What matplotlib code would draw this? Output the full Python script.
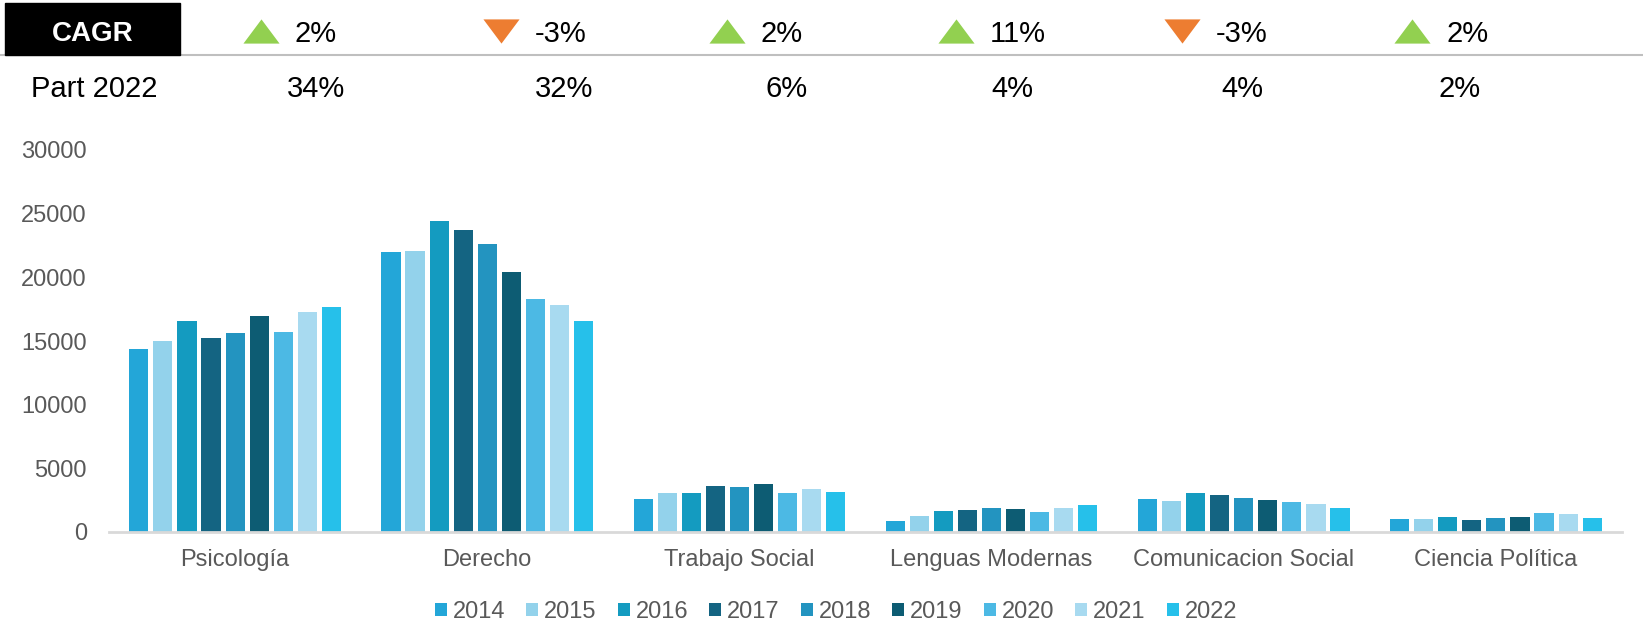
import matplotlib.pyplot as plt
import numpy as np

plt.rcParams['font.family'] = ['Liberation Sans', 'DejaVu Sans']

# datos
carreras = ['Psicología', 'Derecho', 'Trabajo Social', 'Lenguas Modernas',
            'Comunicacion Social', 'Ciencia Política']
anios = ['2014', '2015', '2016', '2017', '2018', '2019', '2020', '2021', '2022']

psicologia = [14400, 15000, 16600, 15200, 15600, 17000, 15700, 17300, 17700]
derecho = [22000, 22100, 24400, 23700, 22600, 20400, 18300, 17800, 16600]
trabajo_social = [2600, 3030, 3090, 3580, 3550, 3740, 3030, 3400, 3160]
lenguas_modernas = [830, 1280, 1670, 1750, 1910, 1830, 1540, 1910, 2090]
comunicacion_social = [2560, 2430, 3030, 2930, 2670, 2540, 2320, 2170, 1910]
ciencia_politica = [990, 990, 1150, 960, 1100, 1150, 1510, 1380, 1120]

cagr = [2, -3, 2, 11, -3, 2]
part_2022 = [34, 32, 6, 4, 4, 2]

colores = ['#23A6D8', '#93D2EB', '#149BC0', '#146482', '#2394C0',
           '#0D5C73', '#4CB9E4', '#A8DAF0', '#26C0EA']

valores = np.array([psicologia, derecho, trabajo_social, lenguas_modernas,
                    comunicacion_social, ciencia_politica])

W, H = 1643, 625
fig = plt.figure(figsize=(W / 100, H / 100), dpi=100)

# grafico de barras
ax = fig.add_axes([109 / W, (H - 532) / H, 1513 / W, 382 / H])
x = np.arange(len(carreras))
paso = 0.0955
ancho = 0.076
for i, anio in enumerate(anios):
    ax.bar(x + (i - 4) * paso, valores[:, i], width=ancho, color=colores[i],
           label=anio, linewidth=0)

ax.set_xlim(-0.5, len(carreras) - 0.5)
ax.set_ylim(0, 30000)
ax.set_yticks(range(0, 30001, 5000))
ax.set_xticks(x)
ax.set_xticklabels(carreras)
for s in ['top', 'right', 'left']:
    ax.spines[s].set_visible(False)
ax.spines['bottom'].set_color('#D9D9D9')
ax.spines['bottom'].set_linewidth(2)
ax.tick_params(axis='both', length=0, labelsize=17, colors='#595959')
ax.tick_params(axis='y', pad=16)
ax.tick_params(axis='x', pad=12)

h, l = ax.get_legend_handles_labels()
leg = fig.legend(h, l, loc='center', bbox_to_anchor=(836 / W, (H - 612) / H),
                 ncol=9, frameon=False, fontsize=17, handlelength=0.5,
                 handleheight=0.5, handletextpad=0.25, columnspacing=0.9,
                 borderpad=0, borderaxespad=0)
for t in leg.get_texts():
    t.set_color('#595959')

# cabecera (CAGR y participacion)
hd = fig.add_axes([0, 0, 1, 1], facecolor='none')
hd.set_xlim(0, W)
hd.set_ylim(H, 0)
hd.axis('off')

hd.add_patch(plt.Rectangle((5, 3), 175, 52, color='black'))
hd.text(93, 41, 'CAGR', color='white', fontsize=20, fontweight='bold',
        ha='center', va='baseline')
hd.plot([0, W], [55, 55], color='#BFBFBF', lw=1.5, zorder=0)
hd.text(31, 97, 'Part 2022', fontsize=21, ha='left', va='baseline')

tri_up = [(-1, -0.67), (1, -0.67), (0, 0.67), (-1, -0.67)]
tri_down = [(-1, 0.67), (1, 0.67), (0, -0.67), (-1, 0.67)]
tri_x = [261, 501, 727, 956, 1182, 1412]
for tx, c in zip(tri_x, cagr):
    if c >= 0:
        hd.plot(tx, 31, marker=tri_up, ms=26, color='#92D050', mec='none')
    else:
        hd.plot(tx, 31, marker=tri_down, ms=26, color='#ED7D31', mec='none')
    hd.text(tx + 34, 42, f'{c}%', fontsize=21, ha='left', va='baseline')

part_x = [316, 564, 787, 1012, 1242, 1460]
for px, p in zip(part_x, part_2022):
    hd.text(px, 97, f'{p}%', fontsize=21, ha='center', va='baseline')

fig.savefig('out.png', dpi=100)
